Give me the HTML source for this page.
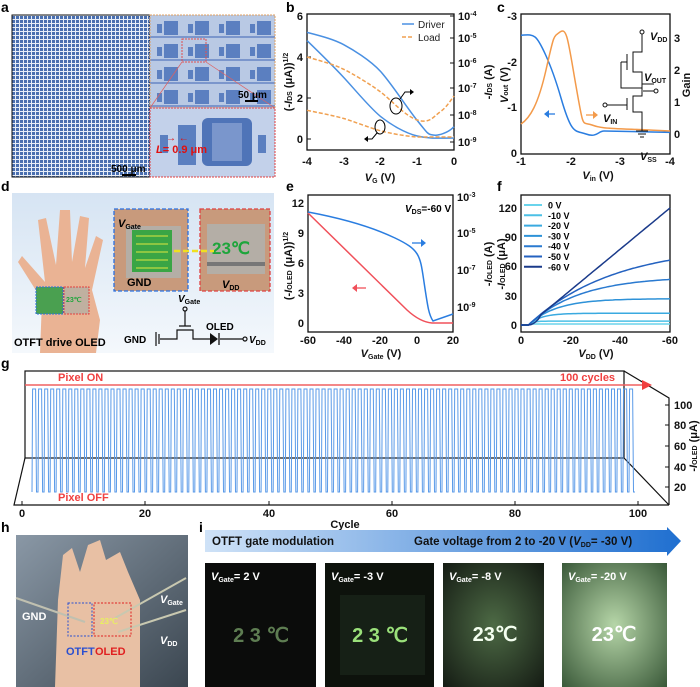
<!DOCTYPE html>
<html><head><meta charset="utf-8"><style>
html,body{margin:0;padding:0;background:#fff}
svg{display:block;font-family:"Liberation Sans",sans-serif}
.t{font-size:11px;font-weight:bold;fill:#111}
.L{font-size:14px;font-weight:bold;fill:#000}
</style></head><body>
<svg id="s" width="700" height="687" viewBox="0 0 700 687" xmlns="http://www.w3.org/2000/svg">
<defs>
<pattern id="grid" width="4" height="4" patternUnits="userSpaceOnUse"><rect width="4" height="4" fill="#e8eef8"/><rect width="3" height="3" fill="#4a6fb0"/></pattern>
<pattern id="cells" width="31" height="23" patternUnits="userSpaceOnUse" x="154" y="17"><rect width="31" height="23" fill="#b9c9e4"/><rect x="10" y="4" width="14" height="14" fill="#5b7fc0"/><rect x="3" y="7" width="5" height="9" fill="#5b7fc0"/><rect x="0" y="19" width="31" height="2" fill="#7b96cc"/></pattern>
<linearGradient id="dbg" x1="0" y1="0" x2="0" y2="1"><stop offset="0" stop-color="#d6e4f3"/><stop offset="1" stop-color="#f4f8fc"/></linearGradient>
<linearGradient id="ban" x1="0" y1="0" x2="1" y2="0"><stop offset="0" stop-color="#cfe2f7"/><stop offset="1" stop-color="#1f6fd0"/></linearGradient>
<radialGradient id="g4" cx=".5" cy=".5" r=".7"><stop offset="0" stop-color="#b6d6a8"/><stop offset="1" stop-color="#3b5a3a"/></radialGradient>
<radialGradient id="g3" cx=".5" cy=".5" r=".7"><stop offset="0" stop-color="#4d6a45"/><stop offset="1" stop-color="#151c14"/></radialGradient>
<linearGradient id="hbg" x1="0" y1="0" x2="1" y2="1"><stop offset="0" stop-color="#8a98a6"/><stop offset="1" stop-color="#3b4650"/></linearGradient>
</defs>

<!-- a -->
<text class="L" x="1" y="12">a</text>
<rect x="12" y="15" width="138" height="162" fill="url(#grid)" stroke="#111" stroke-width="1"/>
<rect x="150" y="15" width="125" height="93" fill="url(#cells)" stroke="#e0a060" stroke-dasharray="2,1"/>
<rect x="182" y="39" width="24" height="23" fill="none" stroke="#e05050" stroke-dasharray="2,1"/>
<rect x="150" y="108" width="125" height="69" fill="#c3d1ea" stroke="#e04040" stroke-dasharray="2,1"/>
<line x1="182" y1="62" x2="150" y2="108" stroke="#e06060" stroke-width=".7"/><line x1="206" y1="62" x2="275" y2="108" stroke="#e06060" stroke-width=".7"/>
<rect x="178" y="125" width="18" height="40" fill="#5b7fc0"/><rect x="202" y="118" width="50" height="48" rx="6" fill="#4f74b8"/><rect x="212" y="123" width="30" height="38" fill="#7a96cc"/>
<rect x="160" y="135" width="8" height="18" fill="#5b7fc0"/><rect x="258" y="135" width="8" height="18" fill="#5b7fc0"/>
<text x="156" y="153" font-size="11" font-weight="bold" fill="#e01010"><tspan font-style="italic">L</tspan>= 0.9 μm</text>
<text x="166" y="141" font-size="10" fill="#e01010">→ ←</text>
<text x="111" y="172" font-size="10" font-weight="bold">500 μm</text><line x1="122" y1="175" x2="136" y2="175" stroke="#000" stroke-width="2"/>
<text x="238" y="98" font-size="10" font-weight="bold">50 μm</text><line x1="245" y1="101" x2="258" y2="101" stroke="#000" stroke-width="2"/>

<!-- b -->
<text class="L" x="286" y="12">b</text>
<rect x="307" y="14" width="147" height="136" fill="none" stroke="#111" stroke-width="1.3"/>
<g class="t" text-anchor="end"><text x="303" y="143">0</text><text x="303" y="102">2</text><text x="303" y="61">4</text><text x="303" y="20">6</text></g>
<g stroke="#111"><line x1="307" y1="139" x2="311" y2="139"/><line x1="307" y1="98" x2="311" y2="98"/><line x1="307" y1="57" x2="311" y2="57"/><line x1="454" y1="16" x2="450" y2="16"/><line x1="454" y1="38" x2="450" y2="38"/><line x1="454" y1="63" x2="450" y2="63"/><line x1="454" y1="88" x2="450" y2="88"/><line x1="454" y1="115" x2="450" y2="115"/><line x1="454" y1="142" x2="450" y2="142"/></g>
<g class="t"><text x="458" y="20">10<tspan font-size="7" dy="-4">-4</tspan></text><text x="458" y="42">10<tspan font-size="7" dy="-4">-5</tspan></text><text x="458" y="67">10<tspan font-size="7" dy="-4">-6</tspan></text><text x="458" y="92">10<tspan font-size="7" dy="-4">-7</tspan></text><text x="458" y="119">10<tspan font-size="7" dy="-4">-8</tspan></text><text x="458" y="146">10<tspan font-size="7" dy="-4">-9</tspan></text></g>
<g class="t" text-anchor="middle"><text x="307" y="165">-4</text><text x="344" y="165">-3</text><text x="380" y="165">-2</text><text x="417" y="165">-1</text><text x="454" y="165">0</text><text x="380" y="181"><tspan font-style="italic">V</tspan><tspan font-size="7" dy="2">G</tspan><tspan dy="-2"> (V)</tspan></text></g>
<text class="t" transform="translate(292,82) rotate(-90)" text-anchor="middle">(-<tspan font-style="italic">I</tspan><tspan font-size="7">DS</tspan> (μA))<tspan font-size="7" dy="-4">1/2</tspan></text>
<text class="t" transform="translate(492,82) rotate(-90)" text-anchor="middle">-<tspan font-style="italic">I</tspan><tspan font-size="7">DS</tspan> (A)</text>
<g fill="none" stroke-width="1.5">
<path d="M307,40.6 C325,58 333,66 343.75,77.5 S370,108 380.5,116.4 S405,133 417.25,136 S440,138 454,138" stroke="#4a90e2"/>
<path d="M307,32.4 C325,37 335,40 343.75,44.7 S370,60 380.5,71.4 S405,105 417.25,120.5 S428,134 433,135 S448,133 454,126.7" stroke="#4a90e2"/>
<path d="M307,110.3 C325,114 335,116 343.75,118.5 S370,128 380.5,130.8 S405,136 417.25,137 L454,137" stroke="#f0a050" stroke-dasharray="4,2"/>
<path d="M307,57 C325,62 335,65 343.75,69.3 S370,84 380.5,91.9 S405,116 417.25,120 S433,117 440,112 S450,101 454,96" stroke="#f0a050" stroke-dasharray="4,2"/>
</g>
<line x1="402" y1="24" x2="414" y2="24" stroke="#4a90e2" stroke-width="1.5"/><text x="418" y="28" font-size="10" fill="#222">Driver</text>
<line x1="402" y1="37" x2="414" y2="37" stroke="#f0a050" stroke-width="1.5" stroke-dasharray="4,2"/><text x="418" y="41" font-size="10" fill="#222">Load</text>
<ellipse cx="396" cy="106" rx="6" ry="8" fill="none" stroke="#000"/><ellipse cx="380" cy="127" rx="5" ry="7" fill="none" stroke="#000"/>
<path d="M400,99 L405,92 L412,92" fill="none" stroke="#000"/><path d="M410,89 L414,92 L410,95Z"/>
<path d="M377,133 L372,139 L366,139" fill="none" stroke="#000"/><path d="M368,136 L364,139 L368,142Z"/>

<!-- c -->
<text class="L" x="497" y="12">c</text>
<rect x="521" y="14" width="149" height="140" fill="none" stroke="#111" stroke-width="1.3"/>
<g class="t" text-anchor="end"><text x="517" y="20">-3</text><text x="517" y="66">-2</text><text x="517" y="111">-1</text><text x="517" y="157">0</text></g>
<g class="t"><text x="674" y="42">3</text><text x="674" y="74">2</text><text x="674" y="106">1</text><text x="674" y="138">0</text></g>
<g class="t" text-anchor="middle"><text x="521" y="165">-1</text><text x="571" y="165">-2</text><text x="620" y="165">-3</text><text x="670" y="165">-4</text><text x="598" y="179"><tspan font-style="italic">V</tspan><tspan font-size="7" dy="2">in</tspan><tspan dy="-2"> (V)</tspan></text></g>
<text class="t" transform="translate(508,85) rotate(-90)" text-anchor="middle"><tspan font-style="italic">V</tspan><tspan font-size="7">out</tspan> (V)</text>
<text class="t" transform="translate(690,85) rotate(-90)" text-anchor="middle">Gain</text>
<path d="M521,35.2 C527,35 531,34 535,37 S550,60 561,98 S575,130 586,134 S598,131 604,131 L670,132.4" fill="none" stroke="#2a7de0" stroke-width="1.5"/>
<path d="M521,124 C530,118 538,105 546,70 S553,37 560,32 S568,40 576,86 S582,121 592,125 S610,128 670,131" fill="none" stroke="#f39a4a" stroke-width="1.5"/>
<path d="M555,114 L545,114" stroke="#2a7de0" stroke-width="1.3"/><path d="M544,114 L549,110 L549,118Z" fill="#2a7de0"/>
<path d="M586,115 L596,115" stroke="#f39a4a" stroke-width="1.3"/><path d="M598,115 L593,111 L593,119Z" fill="#f39a4a"/>
<g fill="none" stroke="#111" stroke-width="1"><circle cx="642" cy="32" r="2"/><path d="M642,34 V52 H633 V72 H642 V96 H633 V112 H642 V131"/><path d="M627,54 V70 M627,98 V110 M621,62 H627 M607,105 H627 M654,91 H643 M642,84 H654"/><circle cx="605" cy="105" r="2"/><circle cx="656" cy="91" r="2"/><path d="M636,131 H648 M638,134 H646 M640,137 H644"/><path d="M621,62 V88 H642"/></g>
<g class="t"><text x="650" y="40"><tspan font-style="italic">V</tspan><tspan font-size="7" dy="2">DD</tspan></text><text x="644" y="81"><tspan font-style="italic">V</tspan><tspan font-size="7" dy="2">OUT</tspan></text><text x="603" y="122"><tspan font-style="italic">V</tspan><tspan font-size="7" dy="2">IN</tspan></text><text x="640" y="160"><tspan font-style="italic">V</tspan><tspan font-size="7" dy="2">SS</tspan></text></g>

<!-- d -->
<text class="L" x="1" y="191">d</text>
<rect x="12" y="193" width="262" height="160" fill="url(#dbg)"/>
<path d="M40,353 L42,300 L18,262 L22,256 L45,282 L38,220 L46,218 L56,265 L60,210 L70,210 L72,262 L80,216 L89,218 L85,268 L96,236 L103,240 L92,290 L100,320 L96,353Z" fill="#eab394"/>
<rect x="114" y="209" width="74" height="82" fill="#c89a7c" stroke="#2a6fe0" stroke-width="1.3" stroke-dasharray="4,2"/>
<rect x="200" y="209" width="70" height="82" fill="#c89a7c" stroke="#e04040" stroke-width="1.3" stroke-dasharray="4,2"/>
<rect x="126" y="226" width="55" height="52" fill="#b4aea6"/><rect x="132" y="230" width="40" height="42" fill="#3aa545"/>
<g stroke="#dde840" stroke-width="1"><path d="M136,236 H168 M136,244 H168 M136,252 H168 M136,260 H168 M136,268 H168"/></g>
<rect x="207" y="224" width="58" height="50" fill="#b4aea6"/><text x="212" y="254" font-size="17" font-weight="bold" fill="#1ea53c">23℃</text>
<rect x="207" y="262" width="58" height="4" fill="#777"/>
<path d="M174,251 H214" stroke="#f0e020" stroke-width="2.5" stroke-dasharray="6,3"/>
<text x="118" y="227" font-size="11" font-weight="bold"><tspan font-style="italic">V</tspan><tspan font-size="7" dy="2">Gate</tspan></text>
<text x="127" y="286" font-size="11" font-weight="bold">GND</text>
<text x="222" y="288" font-size="11" font-weight="bold"><tspan font-style="italic">V</tspan><tspan font-size="7" dy="2">DD</tspan></text>
<rect x="36" y="287" width="27" height="27" fill="#4aa050" stroke="#2a6fe0" stroke-dasharray="2,1"/><rect x="64" y="287" width="25" height="27" fill="#c0b0a0" stroke="#e04040" stroke-dasharray="2,1"/><text x="66" y="302" font-size="7" fill="#1ea53c" font-weight="bold">23℃</text>
<text x="14" y="346" font-size="11" font-weight="bold">OTFT drive OLED</text>
<g fill="none" stroke="#111" stroke-width="1.2"><path d="M156,332 V346 M159,334 V344 M160,339 H177 V330 H193 V339 H210 M179,326 H191 M185,326 V311 M220,339 H243"/><circle cx="185" cy="309" r="2"/><circle cx="245" cy="339" r="2"/></g>
<path d="M210,333 L218,339 L210,345Z" fill="#111"/><line x1="219" y1="333" x2="219" y2="345" stroke="#111" stroke-width="1.3"/>
<g font-size="10" font-weight="bold"><text x="124" y="343">GND</text><text x="178" y="302"><tspan font-style="italic">V</tspan><tspan font-size="7" dy="2">Gate</tspan></text><text x="206" y="330">OLED</text><text x="249" y="343"><tspan font-style="italic">V</tspan><tspan font-size="7" dy="2">DD</tspan></text></g>

<!-- e -->
<text class="L" x="286" y="191">e</text>
<rect x="308" y="195" width="145" height="137" fill="none" stroke="#111" stroke-width="1.3"/>
<g class="t" text-anchor="end"><text x="304" y="327">0</text><text x="304" y="297">3</text><text x="304" y="267">6</text><text x="304" y="237">9</text><text x="304" y="207">12</text></g>
<g class="t"><text x="457" y="201">10<tspan font-size="7" dy="-4">-3</tspan></text><text x="457" y="237">10<tspan font-size="7" dy="-4">-5</tspan></text><text x="457" y="274">10<tspan font-size="7" dy="-4">-7</tspan></text><text x="457" y="311">10<tspan font-size="7" dy="-4">-9</tspan></text></g>
<g class="t" text-anchor="middle"><text x="308" y="344">-60</text><text x="344" y="344">-40</text><text x="380" y="344">-20</text><text x="417" y="344">0</text><text x="453" y="344">20</text><text x="381" y="357"><tspan font-style="italic">V</tspan><tspan font-size="7" dy="2">Gate</tspan><tspan dy="-2"> (V)</tspan></text></g>
<text class="t" transform="translate(292,266) rotate(-90)" text-anchor="middle">(-<tspan font-style="italic">I</tspan><tspan font-size="7">OLED</tspan> (μA))<tspan font-size="7" dy="-4">1/2</tspan></text>
<text class="t" transform="translate(492,264) rotate(-90)" text-anchor="middle">-<tspan font-style="italic">I</tspan><tspan font-size="7">OLED</tspan> (A)</text>
<text x="405" y="212" font-size="10" font-weight="bold"><tspan font-style="italic">V</tspan><tspan font-size="7" dy="2">DS</tspan><tspan dy="-2">=-60 V</tspan></text>
<path d="M308,213 L407,310 Q420,322 432,323 L453,323" fill="none" stroke="#f0505a" stroke-width="1.5"/>
<path d="M308,212 C340,218 370,226 395,238 S420,255 424,282 S429,315 433,321 L453,314" fill="none" stroke="#2a7de0" stroke-width="1.5"/>
<path d="M412,243 H423" stroke="#2a7de0" stroke-width="1.3"/><path d="M426,243 L421,239 L421,247Z" fill="#2a7de0"/>
<path d="M355,288 H366" stroke="#f0505a" stroke-width="1.3"/><path d="M352,288 L357,284 L357,292Z" fill="#f0505a"/>

<!-- f -->
<text class="L" x="497" y="191">f</text>
<rect x="521" y="195" width="149" height="137" fill="none" stroke="#111" stroke-width="1.3"/>
<g class="t" text-anchor="end"><text x="517" y="329">0</text><text x="517" y="300">30</text><text x="517" y="270">60</text><text x="517" y="241">90</text><text x="517" y="212">120</text></g>
<g class="t" text-anchor="middle"><text x="521" y="344">0</text><text x="571" y="344">-20</text><text x="620" y="344">-40</text><text x="670" y="344">-60</text><text x="596" y="357"><tspan font-style="italic">V</tspan><tspan font-size="7" dy="2">DD</tspan><tspan dy="-2"> (V)</tspan></text></g>
<text class="t" transform="translate(505,264) rotate(-90)" text-anchor="middle">-<tspan font-style="italic">I</tspan><tspan font-size="7">OLED</tspan> (μA)</text>
<g id="fc"></g>
<g id="fl" font-size="9" font-weight="bold"></g>

<!-- g -->
<text class="L" x="1" y="368">g</text>
<rect x="25" y="371" width="599" height="87" fill="none" stroke="#111" stroke-width="1.2"/>
<path d="M624,371 L669,398 V505 M25,458 L14,505 H669 M624,458 L669,505" fill="none" stroke="#111" stroke-width="1.2"/>
<g id="pulses"></g>
<line x1="25" y1="385" x2="645" y2="385" stroke="#f06060" stroke-width="1.5"/><path d="M652,385 L642,380 L642,390Z" fill="#f04040"/>
<text x="58" y="381" font-size="11" font-weight="bold" fill="#f04040">Pixel ON</text>
<text x="560" y="381" font-size="11" font-weight="bold" fill="#f04040">100 cycles</text>
<text x="58" y="501" font-size="11" font-weight="bold" fill="#f04040">Pixel OFF</text>
<g class="t"><text x="674" y="409">100</text><text x="674" y="429">80</text><text x="674" y="450">60</text><text x="674" y="471">40</text><text x="674" y="491">20</text></g>
<g stroke="#111"><line x1="669" y1="405" x2="665" y2="405"/><line x1="669" y1="425" x2="665" y2="425"/><line x1="669" y1="446" x2="665" y2="446"/><line x1="669" y1="467" x2="665" y2="467"/><line x1="669" y1="487" x2="665" y2="487"/></g>
<text class="t" transform="translate(697,446) rotate(-90)" text-anchor="middle">-<tspan font-style="italic">I</tspan><tspan font-size="7">OLED</tspan> (μA)</text>
<g class="t" text-anchor="middle"><text x="22" y="517">0</text><text x="145" y="517">20</text><text x="269" y="517">40</text><text x="392" y="517">60</text><text x="515" y="517">80</text><text x="638" y="517">100</text><text x="345" y="528">Cycle</text></g>
<g stroke="#111"><line x1="22" y1="505" x2="22" y2="501"/><line x1="145" y1="505" x2="145" y2="501"/><line x1="269" y1="505" x2="269" y2="501"/><line x1="392" y1="505" x2="392" y2="501"/><line x1="515" y1="505" x2="515" y2="501"/><line x1="638" y1="505" x2="638" y2="501"/></g>

<!-- h -->
<text class="L" x="1" y="532">h</text>
<rect x="16" y="535" width="172" height="152" fill="url(#hbg)"/>
<path d="M55,687 L58,600 L63,555 L72,548 L80,572 L88,545 L100,540 L106,560 L120,552 L128,572 L140,600 L140,687Z" fill="#e8c0a4"/>
<line x1="16" y1="598" x2="85" y2="622" stroke="#c0c0b0" stroke-width="2"/><line x1="186" y1="578" x2="115" y2="618" stroke="#c8c8b0" stroke-width="2"/><line x1="186" y1="610" x2="118" y2="632" stroke="#c8c8b0" stroke-width="2"/>
<rect x="68" y="603" width="24" height="33" fill="none" stroke="#2a4fd0" stroke-dasharray="2,1.5"/>
<rect x="94" y="603" width="37" height="33" fill="none" stroke="#e02020" stroke-dasharray="2,1.5"/>
<text x="100" y="624" font-size="8" font-weight="bold" fill="#e8f060">23℃</text>
<g font-size="11" font-weight="bold" fill="#fff"><text x="22" y="620">GND</text><text x="160" y="603"><tspan font-style="italic">V</tspan><tspan font-size="7" dy="2">Gate</tspan></text><text x="160" y="644"><tspan font-style="italic">V</tspan><tspan font-size="7" dy="2">DD</tspan></text></g>
<text x="66" y="655" font-size="11" font-weight="bold" fill="#2a4fd0">OTFT</text><text x="95" y="655" font-size="11" font-weight="bold" fill="#e02020">OLED</text>

<!-- i -->
<text class="L" x="199" y="532">i</text>
<path d="M205,530 H667 V527 L681,541 L667,556 V552 H205Z" fill="url(#ban)"/>
<text x="212" y="545" font-size="11.5" font-weight="bold" fill="#111">OTFT gate modulation</text>
<text x="414" y="545" font-size="11.5" font-weight="bold" fill="#111">Gate voltage from 2 to -20 V (<tspan font-style="italic">V</tspan><tspan font-size="7" dy="2">DD</tspan><tspan dy="-2">= -30 V)</tspan></text>
<rect x="205" y="563" width="111" height="124" fill="#0b0c0b"/>
<rect x="325" y="563" width="109" height="124" fill="#0d120c"/><rect x="340" y="595" width="85" height="80" fill="#162016"/>
<rect x="443" y="563" width="101" height="124" fill="url(#g3)"/>
<rect x="562" y="563" width="105" height="124" fill="url(#g4)"/>
<g font-size="20" font-weight="bold" text-anchor="middle"><text x="261" y="642" fill="#5e7d52">2 3 ℃</text><text x="380" y="642" fill="#9ae07a">2 3 ℃</text><text x="495" y="641" fill="#f4fff0">23℃</text><text x="614" y="641" fill="#ffffff">23℃</text></g>
<g font-size="11" font-weight="bold" fill="#fff"><text x="211" y="580"><tspan font-style="italic">V</tspan><tspan font-size="7" dy="2">Gate</tspan><tspan dy="-2">= 2 V</tspan></text><text x="331" y="580"><tspan font-style="italic">V</tspan><tspan font-size="7" dy="2">Gate</tspan><tspan dy="-2">= -3 V</tspan></text><text x="449" y="580"><tspan font-style="italic">V</tspan><tspan font-size="7" dy="2">Gate</tspan><tspan dy="-2">= -8 V</tspan></text><text x="568" y="580"><tspan font-style="italic">V</tspan><tspan font-size="7" dy="2">Gate</tspan><tspan dy="-2">= -20 V</tspan></text></g>
</svg>
<script>
var NS="http://www.w3.org/2000/svg";
function el(p,t,a,txt){var e=document.createElementNS(NS,t);for(var k in a)e.setAttribute(k,a[k]);if(txt)e.textContent=txt;p.appendChild(e);return e;}
var d="M32,492";var x0=32,per=(635-32)/100;
for(var i=0;i<100;i++){var x=x0+i*per;d+=" L"+(x+0.6).toFixed(1)+",389 L"+(x+per*0.6).toFixed(1)+",389 L"+(x+per*0.75).toFixed(1)+",492 L"+(x+per).toFixed(1)+",492";}
el(document.getElementById("pulses"),"path",{d:d,fill:"none",stroke:"#5a9ae8","stroke-width":"1"});
var sat=[1,4,12,27,50,82,120],cols=["#6ad4ec","#4cc0e6","#3aaae0","#2e92d8","#2a7ad0","#2462c0","#1a3a8a"],labs=["0 V","-10 V","-20 V","-30 V","-40 V","-50 V","-60 V"];
var fc=document.getElementById("fc"),fl=document.getElementById("fl");
for(var j=0;j<7;j++){var p="";for(var v=0;v<=60;v+=1){var u=Math.max(0,v-3);var I;if(j==6){I=120*u/57;if(v<8)I=120/57*u*(u/5)*(v<8?0.9:1);}else I=sat[j]*(1-Math.exp(-2.4*u/sat[j]));var X=521+v*2.483,Y=325-I*0.975;p+=(v?"L":"M")+X.toFixed(1)+","+Y.toFixed(1);}
el(fc,"path",{d:p,fill:"none",stroke:cols[j],"stroke-width":"1.5"});
var ly=205+j*10.3;el(fl,"line",{x1:524,y1:ly,x2:542,y2:ly,stroke:cols[j],"stroke-width":"2"});el(fl,"text",{x:548,y:ly+3.5},labs[j]);}
</script>
</body></html>
